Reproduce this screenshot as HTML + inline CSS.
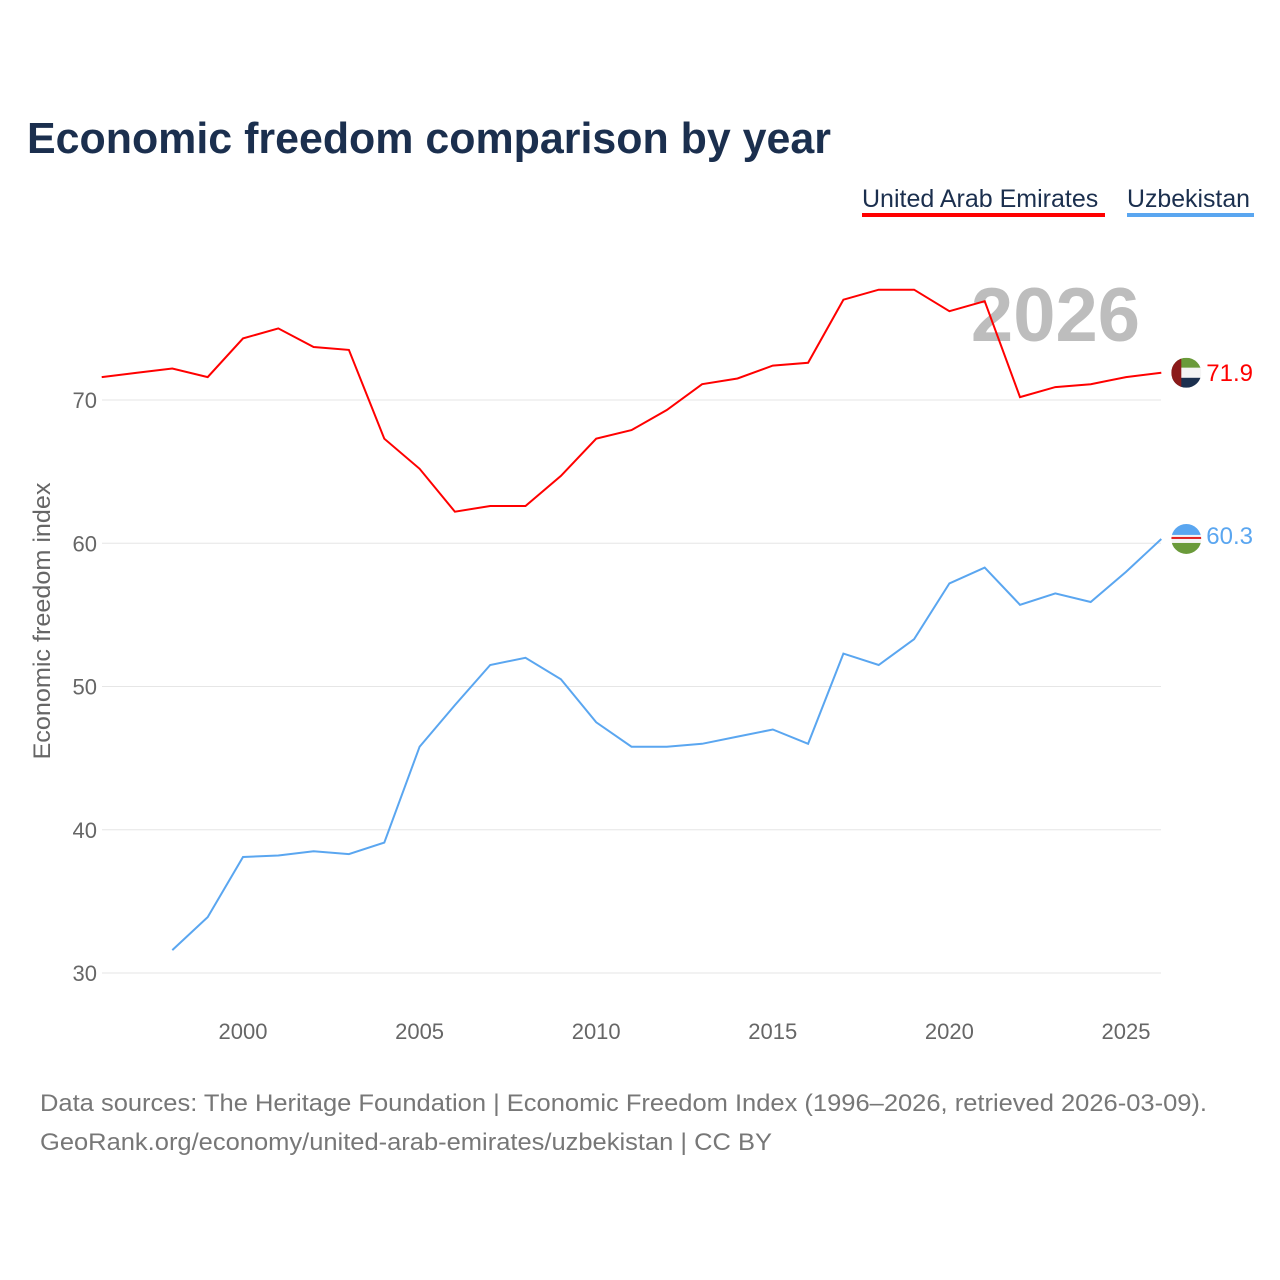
<!DOCTYPE html>
<html><head><meta charset="utf-8">
<style>
body{margin:0;background:#fff;font-family:"Liberation Sans",sans-serif;}
#wrap{position:relative;width:1280px;height:1280px;overflow:hidden;}
</style></head>
<body>
<div id="wrap">
<svg id="chart" width="1280" height="1280"></svg>
</div>
<script>
const years = [1996,1997,1998,1999,2000,2001,2002,2003,2004,2005,2006,2007,2008,2009,2010,2011,2012,2013,2014,2015,2016,2017,2018,2019,2020,2021,2022,2023,2024,2025,2026];
const uaeValues = [71.6,71.9,72.2,71.6,74.3,75.0,73.7,73.5,67.3,65.2,62.2,62.6,62.6,64.7,67.3,67.9,69.3,71.1,71.5,72.4,72.6,77.0,77.7,77.7,76.2,76.9,70.2,70.9,71.1,71.6,71.9];
const uzbValues = [null,null,31.6,33.9,38.1,38.2,38.5,38.3,39.1,45.8,48.7,51.5,52.0,50.5,47.5,45.8,45.8,46.0,46.5,47.0,46.0,52.3,51.5,53.3,57.2,58.3,55.7,56.5,55.9,58.0,60.3];
const yTicks = [30,40,50,60,70];
const xTicks = [2000,2005,2010,2015,2020,2025];

const NS="http://www.w3.org/2000/svg";
const svg=document.getElementById('chart');
function x(yr){return 101.7+(yr-1996)*35.32;}
function y(v){return 400+(70-v)*14.325;}
function mk(tag,attrs,text){const e=document.createElementNS(NS,tag);for(const k in attrs)e.setAttribute(k,attrs[k]);if(text!==undefined)e.textContent=text;svg.appendChild(e);return e;}

let t=mk('text',{x:27,y:153,'font-size':44,'font-weight':'bold',fill:'#1b2f4e',textLength:804,lengthAdjust:'spacingAndGlyphs'},'Economic freedom comparison by year');



t=mk('text',{x:862,y:207,'font-size':25,fill:'#1b2f4e'},'United Arab Emirates');


let r=mk('rect',{x:862,y:213,width:243,height:4,fill:'#ff0000'});


t=mk('text',{x:1127,y:207,'font-size':25,fill:'#1b2f4e',textLength:123,lengthAdjust:'spacingAndGlyphs'},'Uzbekistan');


r=mk('rect',{x:1127,y:213,width:127,height:4,fill:'#5aa6f0'});



t=mk('text',{x:1140,y:341,'font-size':76,'font-weight':'bold',fill:'#bdbdbd','text-anchor':'end'},'2026');



yTicks.forEach(v=>{
  const g=mk('line',{x1:102,x2:1161,y1:y(v),y2:y(v),stroke:'#e6e6e6','stroke-width':1});
  
  
  const l=mk('text',{x:97,y:y(v)+8,'font-size':22,fill:'#666','text-anchor':'end'},String(v));
  
  
});
xTicks.forEach(v=>{
  const l=mk('text',{x:x(v),y:1039,'font-size':22,fill:'#666','text-anchor':'middle'},String(v));
  
  
});
t=mk('text',{x:0,y:0,'font-size':24,fill:'#666','text-anchor':'middle',textLength:277,lengthAdjust:'spacingAndGlyphs',transform:'translate(50,621) rotate(-90)'},'Economic freedom index');



function path(vals){let d='';let started=false;vals.forEach((v,i)=>{if(v===null)return;d+=(started?'L':'M')+x(years[i]).toFixed(1)+','+y(v).toFixed(1);started=true;});return d;}
let p=mk('path',{d:path(uaeValues),fill:'none',stroke:'#ff0000','stroke-width':2});


p=mk('path',{d:path(uzbValues),fill:'none',stroke:'#5aa6f0','stroke-width':2});



const lastUae=uaeValues[uaeValues.length-1], lastUzb=uzbValues[uzbValues.length-1];
const fx=x(2026)+25;
let g=mk('g',{});


function add(parent,tag,attrs){const e=document.createElementNS(NS,tag);for(const k in attrs)e.setAttribute(k,attrs[k]);parent.appendChild(e);return e;}
const cy1=y(lastUae);
add(g,'clipPath',{id:'c1'});
add(g.lastChild,'circle',{cx:fx,cy:cy1,r:15});
add(g,'rect',{x:fx-15,y:cy1-15,width:30,height:10,fill:'#6a9a3a','clip-path':'url(#c1)'});
add(g,'rect',{x:fx-15,y:cy1-5,width:30,height:10,fill:'#f4f4f4','clip-path':'url(#c1)'});
add(g,'rect',{x:fx-15,y:cy1+5,width:30,height:10,fill:'#1b2f4e','clip-path':'url(#c1)'});
add(g,'rect',{x:fx-15,y:cy1-15,width:10,height:30,fill:'#8b1a1a','clip-path':'url(#c1)'});
t=mk('text',{x:fx+20,y:cy1+8,'font-size':24,fill:'#ff0000'},lastUae.toFixed(1));



g=mk('g',{});


const cy2=y(lastUzb);
add(g,'clipPath',{id:'c2'});
add(g.lastChild,'circle',{cx:fx,cy:cy2,r:15});
add(g,'rect',{x:fx-15,y:cy2-15,width:30,height:11,fill:'#5aa6f0','clip-path':'url(#c2)'});
add(g,'rect',{x:fx-15,y:cy2-4,width:30,height:8,fill:'#f4f4f4','clip-path':'url(#c2)'});
add(g,'rect',{x:fx-15,y:cy2-2,width:30,height:2,fill:'#e02020','clip-path':'url(#c2)'});
add(g,'rect',{x:fx-15,y:cy2+4,width:30,height:11,fill:'#6a9a3a','clip-path':'url(#c2)'});
t=mk('text',{x:fx+20,y:cy2+5,'font-size':24,fill:'#5aa6f0'},lastUzb.toFixed(1));



t=mk('text',{x:40,y:1111,'font-size':24,fill:'#777',textLength:1167,lengthAdjust:'spacingAndGlyphs'},'Data sources: The Heritage Foundation | Economic Freedom Index (1996–2026, retrieved 2026-03-09).');


t=mk('text',{x:40,y:1150,'font-size':24,fill:'#777',textLength:732,lengthAdjust:'spacingAndGlyphs'},'GeoRank.org/economy/united-arab-emirates/uzbekistan | CC BY');


</script>
</body></html>
